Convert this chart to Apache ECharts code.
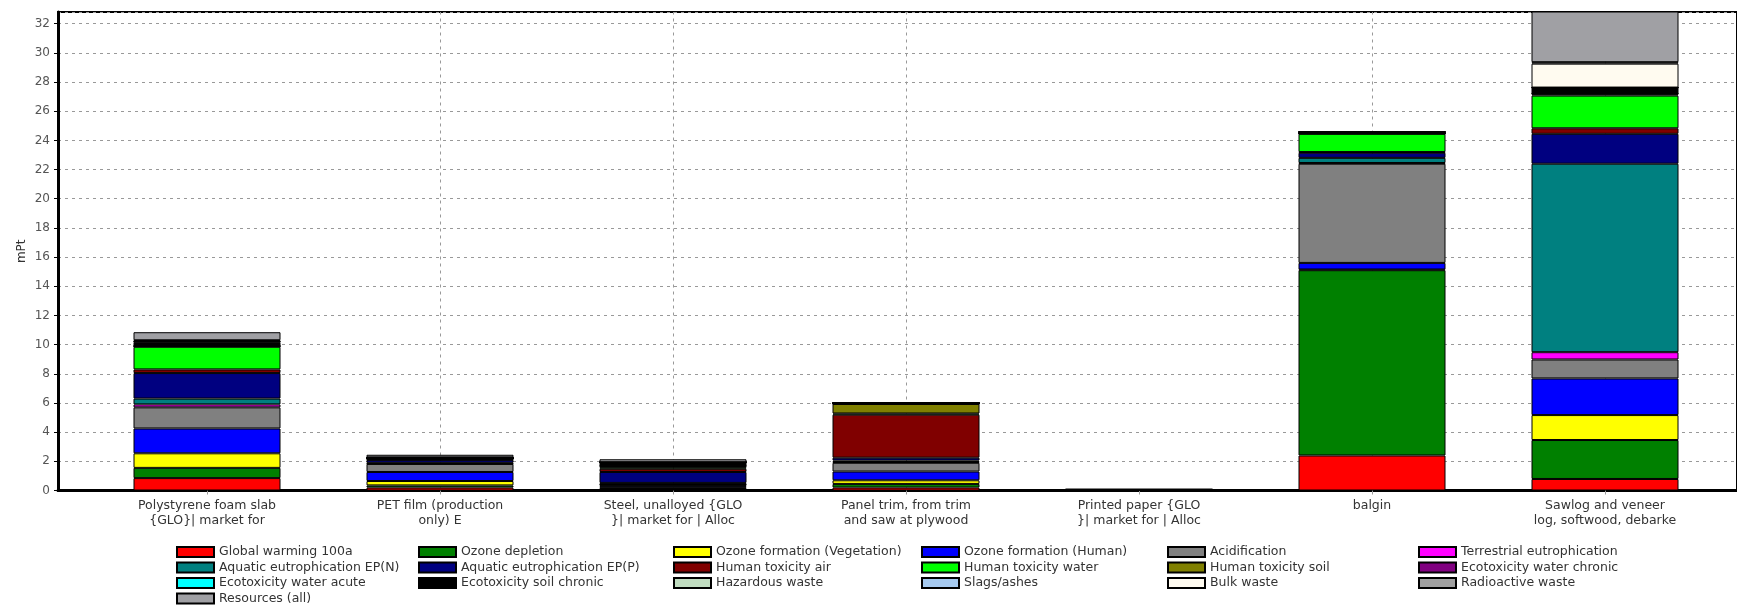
<!DOCTYPE html>
<html>
<head>
<meta charset="utf-8">
<script src="https://cdn.jsdelivr.net/npm/echarts@6/dist/echarts.min.js"></script>
<style>
  html, body { margin: 0; padding: 0; background: #fff; }
  #chart { width: 1737px; height: 613px; }
</style>
</head>
<body>
<div id="chart"></div>
<script>
// categories on the x axis
const categories = [
  'Polystyrene foam slab\n{GLO}| market for',
  'PET film (production\nonly) E',
  'Steel, unalloyed {GLO\n}| market for | Alloc',
  'Panel trim, from trim\nand saw at plywood',
  'Printed paper {GLO\n}| market for | Alloc',
  'balgin',
  'Sawlog and veneer\nlog, softwood, debarke'
];

// y axis ticks (mPt)
const yMin = 0;
const yMax = 32.8;
const yStep = 2;

// impact categories, values per product (mPt)
const globalWarming   = [0.85, 0.20, 0.10, 0.20, 0.02, 2.40, 0.79];
const ozoneDepletion  = [0.70, 0.15, 0.05, 0.25, 0.01, 12.70, 2.67];
const ozoneFormVeg    = [1.00, 0.30, 0.05, 0.25, 0.01, 0.05, 1.71];
const ozoneFormHuman  = [1.70, 0.62, 0.10, 0.60, 0.01, 0.45, 2.51];
const acidification   = [1.45, 0.55, 0.10, 0.60, 0.01, 6.80, 1.30];
const terrestrialEut  = [0.20, 0.03, 0.02, 0.05, 0.00, 0.05, 0.50];
const aquaticEutN     = [0.40, 0.05, 0.10, 0.10, 0.00, 0.35, 12.92];
const aquaticEutP     = [1.75, 0.20, 0.75, 0.20, 0.01, 0.35, 2.05];
const humanToxAir     = [0.25, 0.03, 0.22, 2.95, 0.00, 0.05, 0.38];
const humanToxWater   = [1.55, 0.05, 0.10, 0.08, 0.00, 1.25, 2.24];
const humanToxSoil    = [0.05, 0.02, 0.05, 0.65, 0.00, 0.02, 0.10];
const ecoWaterChronic = [0.00, 0.00, 0.05, 0.02, 0.00, 0.00, 0.05];
const ecoWaterAcute   = [0.00, 0.00, 0.00, 0.00, 0.00, 0.00, 0.00];
const ecoSoilChronic  = [0.25, 0.03, 0.25, 0.05, 0.00, 0.10, 0.40];
const hazardousWaste  = [0.05, 0.02, 0.00, 0.00, 0.00, 0.00, 0.00];
const slagsAshes      = [0.00, 0.00, 0.00, 0.00, 0.00, 0.00, 0.00];
const bulkWaste       = [0.05, 0.00, 0.00, 0.00, 0.00, 0.00, 1.64];
const radioactiveWaste= [0.05, 0.02, 0.00, 0.00, 0.00, 0.00, 0.10];
const resources       = [0.55, 0.18, 0.20, 0.02, 0.00, 0.05, 3.60];

const seriesNames = [
  'Global warming 100a', 'Ozone depletion', 'Ozone formation (Vegetation)', 'Ozone formation (Human)',
  'Acidification', 'Terrestrial eutrophication', 'Aquatic eutrophication EP(N)', 'Aquatic eutrophication EP(P)',
  'Human toxicity air', 'Human toxicity water', 'Human toxicity soil', 'Ecotoxicity water chronic',
  'Ecotoxicity water acute', 'Ecotoxicity soil chronic', 'Hazardous waste', 'Slags/ashes',
  'Bulk waste', 'Radioactive waste', 'Resources (all)'
];
const seriesColors = [
  '#ff0000', '#008000', '#ffff00', '#0000ff', '#808080', '#ff00ff', '#008080', '#000080',
  '#800000', '#00ff00', '#808000', '#800080', '#00ffff', '#000000', '#c0dcc0', '#a6caf0',
  '#fffbf0', '#a0a0a0', '#a0a0a4'
];
const seriesValues = [
  globalWarming, ozoneDepletion, ozoneFormVeg, ozoneFormHuman, acidification, terrestrialEut,
  aquaticEutN, aquaticEutP, humanToxAir, humanToxWater, humanToxSoil, ecoWaterChronic,
  ecoWaterAcute, ecoSoilChronic, hazardousWaste, slagsAshes, bulkWaste, radioactiveWaste, resources
];

// dashed vertical guide lines (only where the original shows them)
const guideCategories = [categories[1], categories[2], categories[3], categories[5], categories[6]];

const font = 'DejaVu Sans';
let myChart = echarts.init(document.getElementById('chart'));

let series = seriesNames.map((name, i) => ({
  name: name,
  type: 'bar',
  stack: 'total',
  xAxisIndex: 1,
  yAxisIndex: 1,
  barWidth: 147,
  itemStyle: { color: seriesColors[i], borderColor: '#000', borderWidth: 1 },
  data: seriesValues[i]
}));
series[0].markLine = {
  silent: true,
  symbol: 'none',
  z: 1,
  label: { show: false },
  lineStyle: { color: '#999', type: [3, 4], width: 1 },
  data: guideCategories.map(c => ({ xAxis: c }))
};

// legend: 6 columns, filled row by row
const colLefts = [176, 418, 673, 921, 1167, 1418];
let legends = colLefts.map((left, c) => ({
  orient: 'vertical',
  left: left,
  top: 545,
  padding: 0,
  itemWidth: 37,
  itemHeight: 10,
  itemGap: 1.5,
  icon: 'rect',
  selectedMode: false,
  textStyle: { fontFamily: font, fontSize: 12.5, color: '#333', lineHeight: 14 },
  data: seriesNames.filter((n, i) => i % 6 === c)
}));

myChart.setOption({
  animation: false,
  backgroundColor: '#fff',
  grid: [
    { left: 58, right: -20, top: 12, bottom: 122.5, show: true, backgroundColor: '#fff', borderColor: '#000', borderWidth: 2 },
    { left: 90.5, width: 1631, top: 12, bottom: 122.5 }
  ],
  legend: legends,
  xAxis: [
    {
      gridIndex: 0, type: 'value', min: 0, max: 1,
      axisLine: { show: true, onZero: false, lineStyle: { color: '#000', width: 3 } },
      axisTick: { show: false }, axisLabel: { show: false }, splitLine: { show: false }
    },
    {
      gridIndex: 1, type: 'category', data: categories,
      axisLine: { show: false },
      axisTick: { show: true, alignWithLabel: true, length: 4, lineStyle: { color: '#999' } },
      axisLabel: { interval: 0, margin: 7, fontFamily: font, fontSize: 12.5, color: '#333', lineHeight: 15.5 },
      splitLine: { show: false }
    }
  ],
  yAxis: [
    {
      gridIndex: 0, type: 'value', min: yMin, max: yMax, interval: yStep,
      name: 'mPt', nameLocation: 'middle', nameGap: 30, nameRotate: 90, nameMoveOverlap: false,
      nameTextStyle: { fontFamily: font, fontSize: 12, color: '#333' },
      axisLine: { show: true, lineStyle: { color: '#000', width: 3 } },
      axisTick: { show: true, length: 4, lineStyle: { color: '#000' } },
      axisLabel: {
        margin: 8, fontFamily: font, fontSize: 12, color: '#555', showMaxLabel: false,
        formatter: v => (v % yStep === 0 ? String(v) : '')
      },
      splitLine: { show: true, lineStyle: { color: '#999', type: [3, 4], width: 1 } }
    },
    { gridIndex: 1, type: 'value', min: yMin, max: yMax, show: false, splitLine: { show: false } }
  ],
  series: series
});
</script>
</body>
</html>
